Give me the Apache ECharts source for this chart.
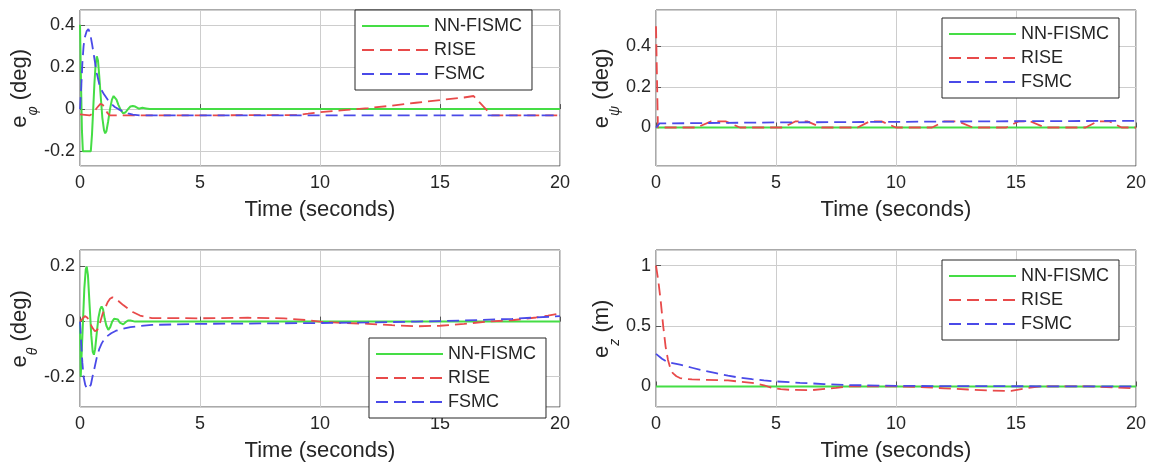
<!DOCTYPE html>
<html>
<head>
<meta charset="utf-8">
<script src="https://cdn.jsdelivr.net/npm/echarts@6/dist/echarts.min.js"></script>
<style>
html,body{margin:0;padding:0;background:#fff;}
#chart{width:1152px;height:463px;}
</style>
</head>
<body>
<div id="chart"></div>
<script>
// ---- Data ----
const seriesNames = ['NN-FISMC', 'RISE', 'FSMC'];
const xTicks = [0, 5, 10, 15, 20];

// e_phi (deg)
const phiNNt = [0, 0.03, 0.08, 0.12, 0.45, 0.5, 0.55, 0.6, 0.65, 0.7, 0.75, 0.8, 0.87, 0.93, 1.0, 1.05, 1.1, 1.17, 1.25, 1.33, 1.4, 1.46, 1.52, 1.6, 1.7, 1.8, 1.9, 2.0, 2.1, 2.2, 2.3, 2.45, 2.6, 2.75, 2.9, 3.2, 20];
const phiNNv = [0.4, 0.2, -0.1, -0.2, -0.2, -0.12, 0.0, 0.12, 0.21, 0.25, 0.23, 0.16, 0.05, -0.04, -0.1, -0.115, -0.105, -0.06, 0.0, 0.045, 0.062, 0.06, 0.045, 0.02, -0.005, -0.02, -0.015, 0.0, 0.012, 0.015, 0.012, 0.002, 0.006, 0.003, 0.0, 0.0, 0.0];
const phiRISEt = [0, 0.4, 0.55, 0.7, 0.85, 0.95, 1.05, 1.15, 1.25, 2, 5, 9, 9.5, 10, 11, 12, 13, 14, 15, 16, 16.4, 17.15, 20];
const phiRISEv = [-0.025, -0.03, -0.02, 0.005, 0.025, 0.02, 0.0, -0.02, -0.03, -0.03, -0.03, -0.028, -0.022, -0.015, -0.005, 0.005, 0.016, 0.03, 0.043, 0.055, 0.062, -0.03, -0.03];
const phiFSMCt = [0, 0.05, 0.1, 0.15, 0.2, 0.28, 0.35, 0.42, 0.5, 0.6, 0.7, 0.8, 0.9, 1.0, 1.15, 1.3, 1.45, 1.6, 1.8, 2.0, 2.2, 2.5, 20];
const phiFSMCv = [0, 0.1, 0.22, 0.3, 0.34, 0.37, 0.38, 0.36, 0.31, 0.24, 0.17, 0.12, 0.09, 0.07, 0.045, 0.025, 0.01, 0.0, -0.012, -0.02, -0.026, -0.03, -0.03];

// e_psi (deg)
const psiNNt = [0, 20];
const psiNNv = [0, 0];
const psiRISEt = [0, 0.08, 1.7, 2.3, 2.9, 3.5, 5.3, 5.8, 6.3, 6.9, 8.4, 8.9, 9.4, 10.0, 11.5, 12.0, 12.6, 13.2, 14.6, 15.1, 15.6, 16.2, 17.9, 18.4, 18.9, 19.4, 20];
const psiRISEv = [0.5, 0, 0, 0.03, 0.03, 0, 0, 0.03, 0.03, 0, 0, 0.03, 0.03, 0, 0, 0.03, 0.03, 0, 0, 0.03, 0.03, 0, 0, 0.03, 0.03, 0, 0];
const psiFSMCt = [0, 0.15, 2, 5, 10, 15, 20];
const psiFSMCv = [0, 0.02, 0.022, 0.025, 0.028, 0.031, 0.033];

// e_theta (deg)
const thNNt = [0, 0.03, 0.1, 0.18, 0.24, 0.28, 0.33, 0.4, 0.47, 0.53, 0.58, 0.63, 0.7, 0.77, 0.84, 0.9, 0.96, 1.03, 1.1, 1.18, 1.26, 1.34, 1.42, 1.5, 1.58, 1.66, 1.74, 1.8, 1.9, 2.0, 2.1, 2.3, 2.5, 20];
const thNNv = [0, -0.2, -0.05, 0.12, 0.19, 0.2, 0.17, 0.06, -0.05, -0.11, -0.12, -0.1, -0.04, 0.015, 0.045, 0.055, 0.045, 0.01, -0.015, -0.03, -0.02, 0.0, 0.01, 0.014, 0.008, -0.004, -0.01, -0.01, -0.002, 0.004, 0.004, 0.0, 0, 0];
const thRISEt = [0, 0.1, 0.2, 0.3, 0.4, 0.5, 0.62, 0.72, 0.85, 0.95, 1.05, 1.15, 1.25, 1.35, 1.45, 1.6, 1.8, 2.0, 2.2, 2.5, 2.8, 3.0, 5, 7, 8.5, 9.5, 10, 11, 12, 13, 14, 15, 16, 17, 18, 19, 19.5, 20];
const thRISEv = [0, 0.01, 0.02, 0.015, 0.0, -0.02, -0.035, -0.03, 0.0, 0.03, 0.05, 0.07, 0.083, 0.088, 0.085, 0.075, 0.06, 0.047, 0.035, 0.022, 0.016, 0.013, 0.012, 0.014, 0.012, 0.005, 0.0, -0.005, -0.008, -0.013, -0.017, -0.015, -0.008, 0.0, 0.005, 0.015, 0.022, 0.03];
const thFSMCt = [0, 0.05, 0.1, 0.15, 0.22, 0.3, 0.38, 0.45, 0.52, 0.6, 0.7, 0.8, 0.9, 1.0, 1.1, 1.3, 1.5, 1.8, 2.1, 2.5, 3, 4, 5, 7, 10, 12, 14, 16, 18, 20];
const thFSMCv = [0, -0.08, -0.15, -0.2, -0.23, -0.245, -0.245, -0.23, -0.2, -0.17, -0.13, -0.1, -0.08, -0.065, -0.055, -0.042, -0.033, -0.026, -0.02, -0.016, -0.012, -0.01, -0.008, -0.007, -0.005, -0.003, 0.0, 0.004, 0.01, 0.02];

// e_z (m)
const zNNt = [0, 20];
const zNNv = [0, 0];
const zRISEt = [0, 0.1, 0.2, 0.3, 0.4, 0.5, 0.6, 0.7, 0.85, 1.0, 1.25, 1.5, 2.0, 3.0, 3.5, 4.0, 4.5, 4.8, 5.2, 5.6, 6.5, 7.5, 8.0, 10, 11, 12, 13, 14, 14.8, 15.5, 16, 18, 20];
const zRISEv = [1.0, 0.87, 0.7, 0.5, 0.33, 0.22, 0.15, 0.11, 0.085, 0.07, 0.062, 0.058, 0.055, 0.05, 0.04, 0.03, 0.01, -0.01, -0.022, -0.028, -0.03, -0.012, 0.0, 0.0, -0.005, -0.015, -0.025, -0.035, -0.037, -0.012, 0.0, 0.0, -0.015];
const zFSMCt = [0, 0.25, 0.5, 1, 1.5, 2, 2.5, 3, 3.5, 4, 4.5, 5, 6, 7, 8, 10, 12, 20];
const zFSMCv = [0.27, 0.23, 0.2, 0.18, 0.155, 0.13, 0.11, 0.09, 0.072, 0.06, 0.05, 0.042, 0.03, 0.02, 0.012, 0.005, 0.003, 0.0];

// ---- Styling / layout ----
const FONT = "'Liberation Sans', Arial, Helvetica, sans-serif";
const TXT = '#262626';
const colors = ['#45dd45', '#e84a4a', '#4a4ae8'];
const pairs = (t, v) => t.map((x, i) => [x, v[i]]);

const grids = [
  {left: 80, top: 10, width: 480, height: 156},
  {left: 656, top: 10, width: 480, height: 156},
  {left: 80, top: 250, width: 480, height: 157},
  {left: 656, top: 250, width: 480, height: 157}
];
const yCfg = [
  {min: -0.27, max: 0.47, step: 0.2, sub: 'φ', unit: ' (deg)', gap: 33},
  {min: -0.19, max: 0.58, step: 0.2, sub: 'ψ', unit: ' (deg)', gap: 26},
  {min: -0.31, max: 0.26, step: 0.2, sub: 'θ', unit: ' (deg)', gap: 33},
  {min: -0.17, max: 1.13, step: 0.5, sub: 'z', unit: ' (m)', gap: 28}
];
const legendPos = [
  {left: 355, top: 10},
  {left: 942, top: 18},
  {left: 369, top: 338},
  {left: 942, top: 260}
];
const data = [
  [pairs(phiNNt, phiNNv), pairs(phiRISEt, phiRISEv), pairs(phiFSMCt, phiFSMCv)],
  [pairs(psiNNt, psiNNv), pairs(psiRISEt, psiRISEv), pairs(psiFSMCt, psiFSMCv)],
  [pairs(thNNt, thNNv), pairs(thRISEt, thRISEv), pairs(thFSMCt, thFSMCv)],
  [pairs(zNNt, zNNv), pairs(zRISEt, zRISEv), pairs(zFSMCt, zFSMCv)]
];

const option = {
  animation: false,
  backgroundColor: '#fff',
  grid: grids.map(g => Object.assign({show: true, borderColor: '#555', borderWidth: 1, backgroundColor: '#fff'}, g)),
  xAxis: grids.map((g, i) => ({
    gridIndex: i, type: 'value', min: xTicks[0], max: xTicks[xTicks.length - 1], interval: 5,
    name: 'Time (seconds)', nameLocation: 'middle', nameGap: 33,
    nameTextStyle: {fontSize: 22, color: TXT, fontFamily: FONT},
    axisLine: {show: false},
    axisTick: {show: true, inside: true, length: 5, lineStyle: {color: '#555'}},
    axisLabel: {fontSize: 18, color: TXT, fontFamily: FONT, margin: 8},
    splitLine: {show: true, lineStyle: {color: '#cdcdcd', width: 1}}
  })),
  yAxis: yCfg.map((c, i) => ({
    gridIndex: i, type: 'value', min: c.min, max: c.max, minInterval: c.step, maxInterval: c.step,
    name: '{m|e}{s|' + c.sub + '}{m|' + c.unit + '}{sp| }',
    nameLocation: 'middle', nameGap: c.gap,
    nameTextStyle: {
      color: TXT, fontFamily: FONT, fontSize: 22,
      rich: {
        m: {fontSize: 22, lineHeight: 22, verticalAlign: 'top', color: TXT, fontFamily: FONT},
        s: {fontSize: 14, lineHeight: 14, verticalAlign: 'bottom', fontStyle: 'italic', color: TXT, fontFamily: FONT},
        sp: {fontSize: 2, lineHeight: 31, verticalAlign: 'bottom'}
      }
    },
    axisLine: {show: false},
    axisTick: {show: true, inside: true, length: 5, lineStyle: {color: '#555'}},
    axisLabel: {fontSize: 18, color: TXT, fontFamily: FONT, margin: 5, showMinLabel: false, showMaxLabel: false},
    splitLine: {show: true, lineStyle: {color: '#cdcdcd', width: 1}}
  })),
  legend: legendPos.map(p => ({
    left: p.left, top: p.top, orient: 'vertical',
    data: seriesNames, selectedMode: false,
    backgroundColor: '#fff', borderColor: '#262626', borderWidth: 1,
    padding: [7, 10, 7, 6], itemGap: 6, itemWidth: 67, itemHeight: 14,
    itemStyle: {opacity: 0, borderWidth: 0},
    textStyle: {fontSize: 18, lineHeight: 18, color: TXT, fontFamily: FONT},
    z: 10
  })),
  series: []
};

data.forEach((set, gi) => {
  set.forEach((d, si) => {
    option.series.push({
      name: seriesNames[si], type: 'line', xAxisIndex: gi, yAxisIndex: gi,
      data: d, symbol: 'none', showSymbol: false, clip: true,
      lineStyle: {color: colors[si], width: si === 0 ? 2 : 1.8, type: si === 0 ? 'solid' : [12, 6]},
      itemStyle: {color: colors[si]}
    });
  });
});

const chart = echarts.init(document.getElementById('chart'), null, {renderer: 'canvas'});
chart.setOption(option);
</script>
</body>
</html>
